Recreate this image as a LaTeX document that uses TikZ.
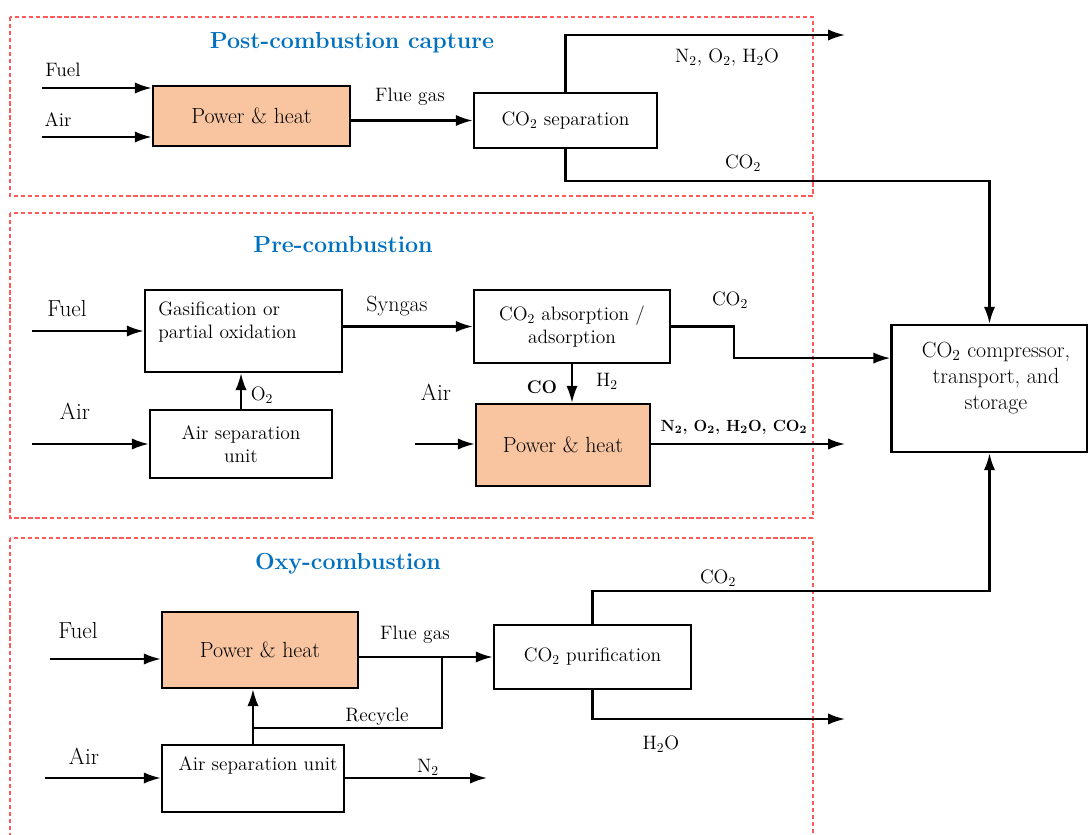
\documentclass[tikz,border=0pt]{standalone}
\usepackage{fontspec}
\usetikzlibrary{arrows.meta}
\definecolor{heatfill}{RGB}{248,197,160}
\definecolor{titleblue}{RGB}{0,112,192}
\definecolor{zonered}{RGB}{255,90,90}

\begin{document}
\begin{tikzpicture}[x=0.025cm, y=-0.025cm,
    block/.style={rectangle, draw, line width=1.7pt, align=center, inner sep=0pt},
    heatblock/.style={block, fill=heatfill},
    zone/.style={draw=zonered, line width=1pt, dash pattern=on 3pt off 2pt},
    flow/.style={line width=1.5pt, -{Latex[length=12pt,width=8pt]}},
    txt/.style={inner sep=0pt, font=\fontsize{13.8}{16.5}\selectfont},
    bigtxt/.style={inner sep=0pt, font=\fontsize{16.5}{19.5}\selectfont},
    zonetitle/.style={inner sep=0pt, text=titleblue, font=\fontsize{16.5}{20}\selectfont\bfseries}]
    \useasboundingbox (0,0) rectangle (1088,835);

    \draw [zone] (10,17) rectangle (813,196);
    \draw [zone] (10,213) rectangle (813,518);
    \draw [zone] (10,538) rectangle (813,850);

    \node [zonetitle] (posttitle) at (352,43) {Post-combustion capture};
    \node [zonetitle] (pretitle) at (343,245) {Pre-combustion};
    \node [zonetitle] (oxytitle) at (348,564) {Oxy-combustion};

    \node [heatblock, minimum width=4.93cm, minimum height=1.5cm, font=\fontsize{15.6}{18.5}\selectfont] (heatpost) at (251.5,116) {Power \& heat};
    \node [block, minimum width=4.58cm, minimum height=1.38cm, font=\fontsize{13.8}{16.5}\selectfont] (seppost) at (565.5,120.5) {CO\textsubscript{2} separation};

    \node [block, minimum width=4.93cm, minimum height=2.05cm] (gasif) at (243.5,331) {};
    \node [txt, anchor=west, align=left] (gasiftext) at (158,322) {Gasification or\\partial oxidation};
    \node [block, minimum width=4.55cm, minimum height=1.7cm, font=\fontsize{13.8}{16.5}\selectfont] (asupre) at (241,444) {Air separation\\unit};
    \node [block, minimum width=4.9cm, minimum height=1.83cm, font=\fontsize{13.8}{16.5}\selectfont] (absorb) at (572,326.5) {CO\textsubscript{2} absorption /\\adsorption};
    \node [heatblock, minimum width=4.35cm, minimum height=2.05cm, font=\fontsize{15.6}{18.5}\selectfont] (heatpre) at (563,445) {Power \& heat};

    \node [block, minimum width=4.9cm, minimum height=3.18cm] (storage) at (989.5,388.5) {};
    \node [inner sep=0pt, align=center, font=\fontsize{15.6}{18.5}\selectfont] (storagetext) at (996,378) {CO\textsubscript{2} compressor,\\transport, and\\storage};

    \node [heatblock, minimum width=4.9cm, minimum height=1.9cm, font=\fontsize{15.6}{18.5}\selectfont] (heatoxy) at (260,650) {Power \& heat};
    \node [block, minimum width=4.55cm, minimum height=1.68cm] (asuoxy) at (253,778.5) {};
    \node [txt] (asuoxytext) at (258,765) {Air separation unit};
    \node [block, minimum width=4.93cm, minimum height=1.6cm, font=\fontsize{13.8}{16.5}\selectfont] (purif) at (592.5,657) {CO\textsubscript{2} purification};

    \coordinate (fuelpost) at (42,88);
    \coordinate (airpost) at (42,137);
    \coordinate (ventpost) at (845,35);
    \draw [flow] (fuelpost) -- (fuelpost -| heatpost.west);
    \draw [flow] (airpost) -- (airpost -| heatpost.west);
    \draw [flow] (heatpost.east |- seppost.west) -- (seppost.west);
    \draw [flow] (seppost.north) |- (ventpost);
    \draw [flow] (seppost.south) -- ++(0,32) -| (storage.north);

    \node [txt] (fuelposttext) at (63,70) {Fuel};
    \node [txt] (airposttext) at (58,120) {Air};
    \node [txt] (fluepost) at (410,97) {Flue gas};
    \node [txt] (ventposttext) at (727,58) {N\textsubscript{2}, O\textsubscript{2}, H\textsubscript{2}O};
    \node [txt] (co2post) at (743,163) {CO\textsubscript{2}};

    \coordinate (fuelpre) at (32,331);
    \coordinate (airpre) at (32,444);
    \coordinate (airheat) at (415,444);
    \coordinate (ventpre) at (845,444);
    \draw [flow] (fuelpre) -- (fuelpre -| gasif.west);
    \draw [flow] (airpre) -- (airpre -| asupre.west);
    \draw [flow] (asupre.north) -- (asupre.north |- gasif.south);
    \draw [flow] (gasif.east |- absorb.west) -- (absorb.west);
    \draw [flow] (absorb.east) -- ++(63,0) |- ([yshift=0.76cm]storage.west);
    \draw [flow] (absorb.south) -- (absorb.south |- heatpre.north);
    \draw [flow] (airheat) -- (airheat -| heatpre.west);
    \draw [flow] (heatpre.east |- ventpre) -- (ventpre);

    \node [bigtxt] (fuelpretext) at (67,309) {Fuel};
    \node [bigtxt] (airpretext) at (75,411) {Air};
    \node [txt] (o2pre) at (262,395) {O\textsubscript{2}};
    \node [inner sep=0pt, font=\fontsize{15.6}{18.5}\selectfont] (syngas) at (397,306) {Syngas};
    \node [txt] (co2pre) at (730,300) {CO\textsubscript{2}};
    \node [txt, font=\fontsize{13}{16}\selectfont\bfseries] (copre) at (542,387) {CO};
    \node [txt] (h2pre) at (607,381) {H\textsubscript{2}};
    \node [bigtxt] (airheattext) at (436,392) {Air};
    \node [inner sep=0pt, font=\fontsize{11.5}{14}\selectfont\bfseries] (ventpretext) at (734,427) {N\textsubscript{2}, O\textsubscript{2}, H\textsubscript{2}O, CO\textsubscript{2}};

    \coordinate (fueloxy) at (50,659);
    \coordinate (airoxy) at (45,778);
    \coordinate (recycle) at (442,657);
    \coordinate (n2oxy) at (487,778);
    \coordinate (wateroxy) at (845,719);
    \draw [flow] (fueloxy) -- (fueloxy -| heatoxy.west);
    \draw [flow] (airoxy) -- (airoxy -| asuoxy.west);
    \draw [flow] (heatoxy.east |- purif.west) -- (purif.west);
    \draw [flow] (asuoxy.north) -- (asuoxy.north |- heatoxy.south);
    \draw [line width=1.5pt] (recycle) -- ++(0,71) -| (asuoxy.north);
    \draw [flow] (asuoxy.east |- n2oxy) -- (n2oxy);
    \draw [flow] (purif.north) -- ++(0,-33) -| (storage.south);
    \draw [flow] (purif.south) |- (wateroxy);

    \node [bigtxt] (fueloxytext) at (78,631) {Fuel};
    \node [bigtxt] (airoxytext) at (84,756) {Air};
    \node [txt] (flueoxy) at (415,635) {Flue gas};
    \node [txt] (recycletext) at (377,717) {Recycle};
    \node [txt] (n2oxytext) at (428,767) {N\textsubscript{2}};
    \node [txt] (co2oxy) at (718,578) {CO\textsubscript{2}};
    \node [txt] (wateroxytext) at (661,744) {H\textsubscript{2}O};
\end{tikzpicture}
\end{document}
